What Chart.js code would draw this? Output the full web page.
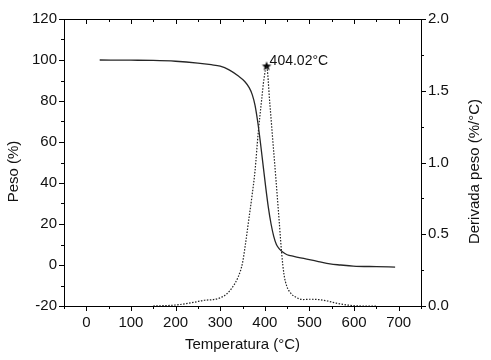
<!DOCTYPE html>
<html>
<head>
<meta charset="utf-8">
<script src="https://cdn.jsdelivr.net/npm/chart.js@4"></script>
<style>
  html, body { margin: 0; padding: 0; background: #fff; }
  #wrap { width: 491px; height: 360px; }
</style>
</head>
<body>
<div id="wrap"><canvas id="tgaChart"></canvas></div>
<script>
// TG curve (weight %)
const tgTemp = [30, 100, 150, 200, 250, 280, 300, 320, 340, 355, 365, 372, 378, 384, 390, 396, 402, 408, 414, 420, 426, 432, 440, 450, 465, 480, 494, 520, 546, 570, 598, 650, 692];
const tgPeso = [100, 99.9, 99.8, 99.4, 98.5, 97.7, 97, 95.2, 92.3, 89.5, 86.5, 83, 78, 70, 60, 49, 38, 28, 20, 14, 10, 8, 6.3, 5, 4.2, 3.5, 2.9, 1.7, 0.5, 0, -0.5, -0.8, -1];
// DTG curve (%/°C)
const dtgTemp = [150, 200, 240, 265, 285, 300, 315, 328, 340, 350, 357, 364, 371, 378, 385, 393, 398, 404.02, 411, 418, 425, 432, 438, 443, 449, 458, 470, 485, 500, 520, 540, 560, 590, 620, 650];
const dtgDeriv = [0, 0.007, 0.025, 0.04, 0.045, 0.057, 0.085, 0.133, 0.2, 0.3, 0.44, 0.6, 0.76, 0.94, 1.2, 1.44, 1.58, 1.67, 1.42, 1.15, 0.88, 0.6, 0.36, 0.22, 0.14, 0.09, 0.06, 0.045, 0.047, 0.045, 0.035, 0.02, 0.005, 0, 0];
// peak marker
const peakTemp = 404.02;
const peakDeriv = 1.67;
const peakLabel = "404.02°C";
// tick labels
const xTicks = [0, 100, 200, 300, 400, 500, 600, 700];
const pesoTicks = [-20, 0, 20, 40, 60, 80, 100, 120];
const derivTicks = [0, 0.5, 1.0, 1.5, 2.0];

const font = "'Liberation Sans', Arial, sans-serif";

// filled five point star used as the peak marker
function makeStar(r) {
  const c = document.createElement("canvas");
  c.width = c.height = r * 2 + 2;
  const g = c.getContext("2d");
  g.fillStyle = "#000";
  g.beginPath();
  for (let i = 0; i < 10; i++) {
    const rad = i % 2 === 0 ? r : r * 0.42;
    const a = -Math.PI / 2 + i * Math.PI / 5;
    const px = r + 1 + rad * Math.cos(a), py = r + 1 + rad * Math.sin(a);
    if (i === 0) g.moveTo(px, py); else g.lineTo(px, py);
  }
  g.closePath();
  g.fill();
  return c;
}

// tick marks, axis titles and the peak label
const axisMarks = {
  id: "axisMarks",
  afterDraw(chart) {
    const ctx = chart.ctx;
    const area = chart.chartArea;
    const x = chart.scales.x, yl = chart.scales.y, yr = chart.scales.y2;
    ctx.save();
    ctx.strokeStyle = "#000";
    ctx.lineWidth = 1;
    ctx.beginPath();
    for (let v = -50; v <= 750; v += 50) {
      const px = Math.round(x.getPixelForValue(v)) + 0.5;
      const len = v % 100 === 0 ? 5 : 3;
      ctx.moveTo(px, area.bottom); ctx.lineTo(px, area.bottom + len);
      ctx.moveTo(px, area.top); ctx.lineTo(px, area.top + len);
    }
    for (let v = -20; v <= 120; v += 10) {
      const py = Math.round(yl.getPixelForValue(v)) + 0.5;
      const len = v % 20 === 0 ? 5 : 3;
      ctx.moveTo(area.left, py); ctx.lineTo(area.left - len, py);
    }
    for (let v = 0; v <= 2.0001; v += 0.25) {
      const py = Math.round(yr.getPixelForValue(v)) + 0.5;
      const len = Math.abs(v * 2 - Math.round(v * 2)) < 0.01 ? 5 : 3;
      ctx.moveTo(area.right, py); ctx.lineTo(area.right + len, py);
    }
    ctx.stroke();

    ctx.fillStyle = "#111";
    ctx.textAlign = "center";
    ctx.textBaseline = "middle";
    ctx.font = "15px " + font;
    const midY = (area.top + area.bottom) / 2 + 9;
    ctx.fillText("Temperatura (°C)", (area.left + area.right) / 2, 345);
    ctx.save();
    ctx.translate(14, midY);
    ctx.rotate(-Math.PI / 2);
    ctx.fillText("Peso (%)", 0, 0);
    ctx.restore();
    ctx.save();
    ctx.translate(475, midY);
    ctx.rotate(-Math.PI / 2);
    ctx.fillText("Derivada peso (%/°C)", 0, 0);
    ctx.restore();

    // peak label
    ctx.textAlign = "left";
    ctx.font = "14px " + font;
    ctx.fillText(peakLabel, x.getPixelForValue(peakTemp) + 3, yr.getPixelForValue(peakDeriv) - 5);
    ctx.restore();
  }
};

document.addEventListener("DOMContentLoaded", function() {
  new Chart(document.getElementById("tgaChart"), {
    type: "line",
    data: {
      datasets: [{
        label: "TG",
        data: tgTemp.map((t, i) => ({x: t, y: tgPeso[i]})),
        yAxisID: "y",
        borderColor: "#262626",
        borderWidth: 1.3,
        pointRadius: 0,
        cubicInterpolationMode: "monotone",
        fill: false
      }, {
        label: "DTG",
        data: dtgTemp.map((t, i) => ({x: t, y: dtgDeriv[i]})),
        yAxisID: "y2",
        borderColor: "#222",
        borderWidth: 1.2,
        borderDash: [1.5, 1.5],
        pointRadius: 0,
        cubicInterpolationMode: "monotone",
        fill: false
      }, {
        label: "peak",
        data: [{x: peakTemp, y: peakDeriv}],
        yAxisID: "y2",
        showLine: false,
        pointStyle: makeStar(5),
        pointRadius: 5
      }]
    },
    options: {
      responsive: true,
      maintainAspectRatio: false,
      animation: false,
      layout: { padding: { top: 19, left: 0, right: 0, bottom: 0 } },
      plugins: { legend: { display: false }, tooltip: { enabled: false } },
      scales: {
        x: {
          type: "linear",
          min: -50, max: 750,
          afterBuildTicks: (s) => { s.ticks = xTicks.map(v => ({value: v})); },
          afterFit: (s) => { s.height = 54; },
          border: { display: true, color: "#000", width: 1 },
          grid: { drawOnChartArea: false, tickLength: 5, tickColor: "transparent" },
          ticks: { color: "#111", font: { family: font, size: 15 }, padding: 3, maxRotation: 0, autoSkip: false }
        },
        x2: {
          type: "linear",
          position: "top",
          min: -50, max: 750,
          afterFit: (s) => { s.height = 0; },
          border: { display: true, color: "#000", width: 1 },
          grid: { display: false },
          ticks: { display: false }
        },
        y: {
          type: "linear",
          position: "left",
          min: -20, max: 120,
          afterBuildTicks: (s) => { s.ticks = pesoTicks.map(v => ({value: v})); },
          afterFit: (s) => { s.width = 64; },
          border: { display: true, color: "#000", width: 1 },
          grid: { drawOnChartArea: false, tickLength: 5, tickColor: "transparent" },
          ticks: { color: "#111", font: { family: font, size: 15 }, padding: 2 }
        },
        y2: {
          type: "linear",
          position: "right",
          min: 0, max: 2,
          afterBuildTicks: (s) => { s.ticks = derivTicks.map(v => ({value: v})); },
          afterFit: (s) => { s.width = 70; },
          border: { display: true, color: "#000", width: 1 },
          grid: { drawOnChartArea: false, tickLength: 5, tickColor: "transparent" },
          ticks: { color: "#111", font: { family: font, size: 15 }, padding: 2, callback: (v) => v.toFixed(1) }
        }
      }
    },
    plugins: [axisMarks]
  });
});
</script>
</body>
</html>
